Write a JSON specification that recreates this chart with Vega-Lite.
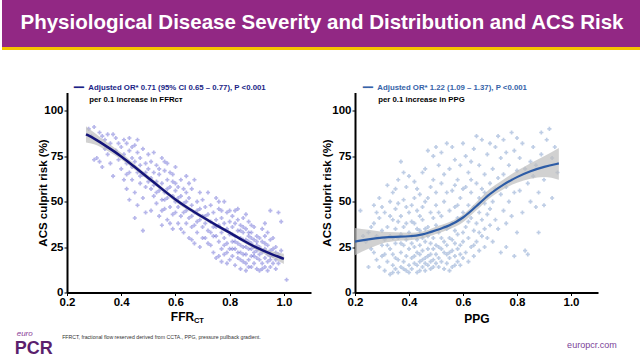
{
"$schema": "https://vega.github.io/schema/vega-lite/v6.json",
"padding": 0,
"background": "white",
"config": {
  "view": {"stroke": null},
  "font": "Liberation Sans",
  "axis": {"grid": false, "domainColor": "black", "domainWidth": 2, "tickColor": "black", "tickSize": 3, "tickWidth": 1,
    "labelFont": "Liberation Sans", "labelFontSize": 11.5, "labelFontWeight": "bold", "labelColor": "black", "labelPadding": 1,
    "titleFont": "Liberation Sans", "titleFontSize": 12, "titleFontWeight": "bold", "titleColor": "black"}
},
"datasets": {
  "ffr": [
    {"f":0.28,"r":90},{"f":0.30,"r":91},{"f":0.29,"r":86},{"f":0.32,"r":88},{"f":0.33,"r":86},{"f":0.31,"r":74},{"f":0.32,"r":72},{"f":0.30,"r":73},{"f":0.34,"r":84},{"f":0.35,"r":87},{"f":0.34,"r":79},{"f":0.33,"r":69},{"f":0.35,"r":76},{"f":0.36,"r":82},{"f":0.36,"r":71},{"f":0.37,"r":87},{"f":0.38,"r":85},{"f":0.37,"r":64},{"f":0.38,"r":78},{"f":0.39,"r":73},{"f":0.39,"r":82},
    {"f":0.40,"r":80},{"f":0.40,"r":68},{"f":0.41,"r":62},{"f":0.41,"r":84},{"f":0.41,"r":76},{"f":0.42,"r":71},{"f":0.42,"r":57},{"f":0.42,"r":82},{"f":0.43,"r":66},{"f":0.43,"r":78},{"f":0.43,"r":85},{"f":0.44,"r":74},{"f":0.44,"r":62},{"f":0.44,"r":69},{"f":0.45,"r":81},{"f":0.45,"r":55},{"f":0.45,"r":72},{"f":0.46,"r":66},{"f":0.46,"r":84},{"f":0.46,"r":48},{"f":0.47,"r":74},{"f":0.47,"r":60},{"f":0.47,"r":70},{"f":0.48,"r":79},{"f":0.48,"r":52},{"f":0.48,"r":65},{"f":0.49,"r":71},{"f":0.49,"r":58},{"f":0.49,"r":44},{"f":0.50,"r":68},{"f":0.50,"r":76},{"f":0.50,"r":61},{"f":0.45,"r":41},{"f":0.48,"r":34},{"f":0.43,"r":51},{"f":0.47,"r":64},{"f":0.46,"r":77},{"f":0.44,"r":80},{"f":0.42,"r":65},{"f":0.49,"r":66},
    {"f":0.51,"r":57},{"f":0.51,"r":72},{"f":0.51,"r":45},{"f":0.52,"r":66},{"f":0.52,"r":53},{"f":0.52,"r":77},{"f":0.53,"r":61},{"f":0.53,"r":49},{"f":0.53,"r":70},{"f":0.54,"r":56},{"f":0.54,"r":42},{"f":0.54,"r":65},{"f":0.55,"r":74},{"f":0.55,"r":51},{"f":0.55,"r":60},{"f":0.55,"r":37},{"f":0.56,"r":67},{"f":0.56,"r":46},{"f":0.56,"r":55},{"f":0.57,"r":62},{"f":0.57,"r":71},{"f":0.57,"r":40},{"f":0.57,"r":52},{"f":0.58,"r":58},{"f":0.58,"r":47},{"f":0.58,"r":66},{"f":0.59,"r":53},{"f":0.59,"r":43},{"f":0.59,"r":61},{"f":0.59,"r":35},{"f":0.60,"r":69},{"f":0.60,"r":50},{"f":0.60,"r":56},{"f":0.60,"r":44},{"f":0.52,"r":59},{"f":0.54,"r":68},{"f":0.56,"r":72},{"f":0.58,"r":38},{"f":0.53,"r":55},{"f":0.57,"r":57},{"f":0.51,"r":63},{"f":0.55,"r":45},{"f":0.59,"r":65},{"f":0.60,"r":60},{"f":0.56,"r":51},
    {"f":0.61,"r":47},{"f":0.61,"r":58},{"f":0.61,"r":38},{"f":0.62,"r":53},{"f":0.62,"r":62},{"f":0.62,"r":42},{"f":0.63,"r":49},{"f":0.63,"r":33},{"f":0.63,"r":57},{"f":0.64,"r":45},{"f":0.64,"r":64},{"f":0.64,"r":38},{"f":0.65,"r":52},{"f":0.65,"r":41},{"f":0.65,"r":30},{"f":0.66,"r":48},{"f":0.66,"r":57},{"f":0.66,"r":36},{"f":0.67,"r":44},{"f":0.67,"r":62},{"f":0.67,"r":27},{"f":0.68,"r":50},{"f":0.68,"r":39},{"f":0.68,"r":33},{"f":0.69,"r":46},{"f":0.69,"r":55},{"f":0.69,"r":25},{"f":0.70,"r":42},{"f":0.70,"r":36},{"f":0.70,"r":51},{"f":0.62,"r":35},{"f":0.64,"r":55},{"f":0.66,"r":42},{"f":0.68,"r":45},{"f":0.63,"r":44},{"f":0.65,"r":60},{"f":0.67,"r":37},{"f":0.69,"r":40},{"f":0.61,"r":52},{"f":0.66,"r":29},{"f":0.70,"r":30},{"f":0.64,"r":50},
    {"f":0.71,"r":47},{"f":0.71,"r":38},{"f":0.71,"r":30},{"f":0.72,"r":43},{"f":0.72,"r":55},{"f":0.72,"r":34},{"f":0.73,"r":39},{"f":0.73,"r":26},{"f":0.73,"r":48},{"f":0.74,"r":36},{"f":0.74,"r":44},{"f":0.74,"r":22},{"f":0.75,"r":52},{"f":0.75,"r":31},{"f":0.75,"r":40},{"f":0.75,"r":19},{"f":0.76,"r":37},{"f":0.76,"r":28},{"f":0.76,"r":46},{"f":0.77,"r":33},{"f":0.77,"r":41},{"f":0.77,"r":24},{"f":0.77,"r":17},{"f":0.78,"r":38},{"f":0.78,"r":30},{"f":0.78,"r":50},{"f":0.78,"r":21},{"f":0.79,"r":35},{"f":0.79,"r":27},{"f":0.79,"r":44},{"f":0.79,"r":16},{"f":0.80,"r":32},{"f":0.80,"r":39},{"f":0.80,"r":24},{"f":0.80,"r":18},{"f":0.72,"r":27},{"f":0.74,"r":31},{"f":0.76,"r":20},{"f":0.73,"r":33},{"f":0.75,"r":36},{"f":0.77,"r":45},{"f":0.79,"r":22},{"f":0.71,"r":42},{"f":0.76,"r":50},{"f":0.78,"r":26},{"f":0.80,"r":45},
    {"f":0.81,"r":36},{"f":0.81,"r":28},{"f":0.81,"r":20},{"f":0.81,"r":42},{"f":0.82,"r":31},{"f":0.82,"r":24},{"f":0.82,"r":15},{"f":0.82,"r":38},{"f":0.83,"r":34},{"f":0.83,"r":27},{"f":0.83,"r":19},{"f":0.83,"r":46},{"f":0.84,"r":30},{"f":0.84,"r":22},{"f":0.84,"r":13},{"f":0.84,"r":37},{"f":0.85,"r":33},{"f":0.85,"r":25},{"f":0.85,"r":17},{"f":0.85,"r":41},{"f":0.86,"r":29},{"f":0.86,"r":21},{"f":0.86,"r":35},{"f":0.86,"r":12},{"f":0.87,"r":31},{"f":0.87,"r":24},{"f":0.87,"r":18},{"f":0.87,"r":39},{"f":0.88,"r":27},{"f":0.88,"r":20},{"f":0.88,"r":33},{"f":0.88,"r":14},{"f":0.89,"r":29},{"f":0.89,"r":22},{"f":0.89,"r":36},{"f":0.89,"r":16},{"f":0.90,"r":26},{"f":0.90,"r":19},{"f":0.90,"r":31},{"f":0.90,"r":13},{"f":0.82,"r":28},{"f":0.84,"r":26},{"f":0.86,"r":25},{"f":0.88,"r":24},{"f":0.85,"r":29},{"f":0.87,"r":28},{"f":0.89,"r":25},{"f":0.83,"r":22},{"f":0.81,"r":32},{"f":0.84,"r":18},{"f":0.86,"r":16},{"f":0.88,"r":37},{"f":0.90,"r":23},{"f":0.87,"r":33},{"f":0.85,"r":21},{"f":0.83,"r":40},{"f":0.89,"r":20},{"f":0.82,"r":45},{"f":0.86,"r":43},{"f":0.88,"r":30},{"f":0.84,"r":34},{"f":0.90,"r":28},{"f":0.81,"r":24},{"f":0.87,"r":14},{"f":0.85,"r":36},
    {"f":0.91,"r":25},{"f":0.91,"r":18},{"f":0.91,"r":30},{"f":0.91,"r":12},{"f":0.92,"r":22},{"f":0.92,"r":16},{"f":0.92,"r":28},{"f":0.92,"r":13},{"f":0.93,"r":24},{"f":0.93,"r":19},{"f":0.93,"r":31},{"f":0.93,"r":14},{"f":0.94,"r":21},{"f":0.94,"r":17},{"f":0.94,"r":26},{"f":0.94,"r":12},{"f":0.95,"r":23},{"f":0.95,"r":18},{"f":0.95,"r":14},{"f":0.95,"r":29},{"f":0.96,"r":20},{"f":0.96,"r":24},{"f":0.96,"r":16},{"f":0.97,"r":22},{"f":0.97,"r":18},{"f":0.97,"r":25},{"f":0.98,"r":21},{"f":0.98,"r":44},{"f":0.99,"r":19},{"f":0.99,"r":23},{"f":0.98,"r":16},{"f":0.92,"r":35},{"f":0.94,"r":33},{"f":0.93,"r":38},{"f":0.96,"r":30},{"f":0.91,"r":21},{"f":0.93,"r":27},{"f":0.95,"r":20},{"f":0.97,"r":13},{"f":1.01,"r":7},{"f":0.95,"r":45},{"f":0.99,"r":39}
  ],
  "ppg": [
    {"p":0.22,"r":45},{"p":0.25,"r":14},{"p":0.24,"r":28},{"p":0.26,"r":36},{"p":0.27,"r":48},{"p":0.27,"r":22},{"p":0.28,"r":31},{"p":0.28,"r":18},{"p":0.29,"r":52},{"p":0.29,"r":41},{"p":0.30,"r":26},{"p":0.30,"r":34},{"p":0.26,"r":24},{"p":0.28,"r":44},{"p":0.29,"r":14},{"p":0.23,"r":31},{"p":0.30,"r":47},{"p":0.27,"r":38},{"p":0.25,"r":33},{"p":0.30,"r":20},
    {"p":0.31,"r":12},{"p":0.31,"r":29},{"p":0.31,"r":44},{"p":0.32,"r":59},{"p":0.32,"r":17},{"p":0.32,"r":36},{"p":0.33,"r":10},{"p":0.33,"r":24},{"p":0.33,"r":50},{"p":0.33,"r":31},{"p":0.34,"r":15},{"p":0.34,"r":40},{"p":0.34,"r":21},{"p":0.34,"r":55},{"p":0.35,"r":13},{"p":0.35,"r":27},{"p":0.35,"r":46},{"p":0.35,"r":35},{"p":0.36,"r":18},{"p":0.36,"r":62},{"p":0.36,"r":30},{"p":0.36,"r":11},{"p":0.37,"r":72},{"p":0.37,"r":22},{"p":0.37,"r":42},{"p":0.37,"r":14},{"p":0.38,"r":26},{"p":0.38,"r":51},{"p":0.38,"r":17},{"p":0.38,"r":36},{"p":0.39,"r":12},{"p":0.39,"r":29},{"p":0.39,"r":58},{"p":0.39,"r":20},{"p":0.40,"r":44},{"p":0.40,"r":15},{"p":0.40,"r":33},{"p":0.40,"r":64},{"p":0.32,"r":26},{"p":0.34,"r":30},{"p":0.36,"r":39},{"p":0.38,"r":13},{"p":0.35,"r":19},{"p":0.37,"r":32},{"p":0.39,"r":47},{"p":0.31,"r":21},{"p":0.33,"r":42},{"p":0.40,"r":24},{"p":0.36,"r":49},{"p":0.38,"r":66},{"p":0.34,"r":11},{"p":0.35,"r":57},{"p":0.39,"r":38},{"p":0.37,"r":27},{"p":0.40,"r":11},
    {"p":0.41,"r":19},{"p":0.41,"r":31},{"p":0.41,"r":48},{"p":0.41,"r":13},{"p":0.42,"r":25},{"p":0.42,"r":61},{"p":0.42,"r":16},{"p":0.42,"r":38},{"p":0.43,"r":11},{"p":0.43,"r":22},{"p":0.43,"r":45},{"p":0.43,"r":29},{"p":0.44,"r":17},{"p":0.44,"r":54},{"p":0.44,"r":34},{"p":0.44,"r":12},{"p":0.45,"r":23},{"p":0.45,"r":40},{"p":0.45,"r":14},{"p":0.45,"r":66},{"p":0.46,"r":19},{"p":0.46,"r":28},{"p":0.46,"r":50},{"p":0.46,"r":12},{"p":0.47,"r":78},{"p":0.47,"r":24},{"p":0.47,"r":36},{"p":0.47,"r":15},{"p":0.48,"r":21},{"p":0.48,"r":44},{"p":0.48,"r":13},{"p":0.48,"r":58},{"p":0.49,"r":18},{"p":0.49,"r":30},{"p":0.49,"r":75},{"p":0.49,"r":14},{"p":0.50,"r":26},{"p":0.50,"r":48},{"p":0.50,"r":16},{"p":0.50,"r":37},{"p":0.41,"r":27},{"p":0.43,"r":35},{"p":0.45,"r":30},{"p":0.47,"r":20},{"p":0.49,"r":24},{"p":0.42,"r":20},{"p":0.44,"r":26},{"p":0.46,"r":16},{"p":0.48,"r":27},{"p":0.50,"r":21},{"p":0.44,"r":42},{"p":0.46,"r":35},{"p":0.48,"r":33},{"p":0.42,"r":52},{"p":0.45,"r":18},{"p":0.47,"r":31},{"p":0.49,"r":62},{"p":0.43,"r":15},{"p":0.46,"r":68},{"p":0.50,"r":80},{"p":0.41,"r":39},{"p":0.44,"r":21},{"p":0.48,"r":17},{"p":0.50,"r":55},{"p":0.45,"r":47},{"p":0.49,"r":41},{"p":0.47,"r":52},{"p":0.43,"r":57},
    {"p":0.51,"r":19},{"p":0.51,"r":33},{"p":0.51,"r":70},{"p":0.51,"r":14},{"p":0.52,"r":24},{"p":0.52,"r":42},{"p":0.52,"r":17},{"p":0.52,"r":60},{"p":0.53,"r":28},{"p":0.53,"r":13},{"p":0.53,"r":50},{"p":0.53,"r":22},{"p":0.54,"r":35},{"p":0.54,"r":16},{"p":0.54,"r":82},{"p":0.54,"r":26},{"p":0.55,"r":19},{"p":0.55,"r":45},{"p":0.55,"r":30},{"p":0.55,"r":68},{"p":0.56,"r":23},{"p":0.56,"r":14},{"p":0.56,"r":38},{"p":0.56,"r":56},{"p":0.57,"r":20},{"p":0.57,"r":47},{"p":0.57,"r":27},{"p":0.57,"r":73},{"p":0.58,"r":17},{"p":0.58,"r":32},{"p":0.58,"r":62},{"p":0.58,"r":24},{"p":0.59,"r":21},{"p":0.59,"r":40},{"p":0.59,"r":15},{"p":0.59,"r":52},{"p":0.60,"r":28},{"p":0.60,"r":82},{"p":0.60,"r":19},{"p":0.60,"r":44},{"p":0.51,"r":25},{"p":0.53,"r":36},{"p":0.55,"r":22},{"p":0.57,"r":34},{"p":0.59,"r":26},{"p":0.52,"r":30},{"p":0.54,"r":21},{"p":0.56,"r":29},{"p":0.58,"r":41},{"p":0.60,"r":33},{"p":0.53,"r":65},{"p":0.55,"r":12},{"p":0.57,"r":15},{"p":0.59,"r":70},{"p":0.52,"r":77},{"p":0.56,"r":80},{"p":0.58,"r":48},{"p":0.54,"r":55},{"p":0.51,"r":44},{"p":0.60,"r":57},{"p":0.55,"r":36},{"p":0.57,"r":59},
    {"p":0.61,"r":36},{"p":0.61,"r":22},{"p":0.61,"r":58},{"p":0.61,"r":75},{"p":0.62,"r":30},{"p":0.62,"r":48},{"p":0.62,"r":17},{"p":0.62,"r":66},{"p":0.63,"r":41},{"p":0.63,"r":25},{"p":0.63,"r":55},{"p":0.63,"r":62},{"p":0.64,"r":34},{"p":0.64,"r":20},{"p":0.64,"r":47},{"p":0.64,"r":79},{"p":0.65,"r":38},{"p":0.65,"r":28},{"p":0.65,"r":60},{"p":0.65,"r":86},{"p":0.66,"r":44},{"p":0.66,"r":23},{"p":0.66,"r":52},{"p":0.66,"r":70},{"p":0.67,"r":31},{"p":0.67,"r":57},{"p":0.67,"r":84},{"p":0.67,"r":40},{"p":0.68,"r":49},{"p":0.68,"r":35},{"p":0.68,"r":65},{"p":0.68,"r":25},{"p":0.69,"r":53},{"p":0.69,"r":76},{"p":0.69,"r":43},{"p":0.69,"r":30},{"p":0.70,"r":60},{"p":0.70,"r":37},{"p":0.70,"r":82},{"p":0.70,"r":46},{"p":0.62,"r":39},{"p":0.64,"r":26},{"p":0.66,"r":33},{"p":0.68,"r":55},{"p":0.63,"r":72},
    {"p":0.71,"r":50},{"p":0.71,"r":68},{"p":0.71,"r":28},{"p":0.72,"r":57},{"p":0.72,"r":80},{"p":0.72,"r":40},{"p":0.73,"r":63},{"p":0.73,"r":35},{"p":0.73,"r":86},{"p":0.74,"r":54},{"p":0.74,"r":74},{"p":0.74,"r":22},{"p":0.75,"r":45},{"p":0.75,"r":65},{"p":0.75,"r":84},{"p":0.76,"r":58},{"p":0.76,"r":38},{"p":0.76,"r":77},{"p":0.77,"r":50},{"p":0.77,"r":70},{"p":0.78,"r":62},{"p":0.78,"r":88},{"p":0.78,"r":42},{"p":0.79,"r":55},{"p":0.79,"r":78},{"p":0.80,"r":67},{"p":0.80,"r":33},{"p":0.80,"r":85},{"p":0.76,"r":25},{"p":0.79,"r":20},
    {"p":0.81,"r":74},{"p":0.81,"r":56},{"p":0.82,"r":82},{"p":0.82,"r":44},{"p":0.83,"r":68},{"p":0.83,"r":23},{"p":0.84,"r":60},{"p":0.84,"r":21},{"p":0.85,"r":72},{"p":0.85,"r":50},{"p":0.86,"r":64},{"p":0.86,"r":80},{"p":0.87,"r":47},{"p":0.87,"r":70},{"p":0.88,"r":55},{"p":0.88,"r":33},{"p":0.89,"r":76},{"p":0.89,"r":88},{"p":0.90,"r":62},{"p":0.90,"r":48},{"p":0.91,"r":84},{"p":0.92,"r":90},{"p":0.93,"r":74},{"p":0.94,"r":80},{"p":0.95,"r":66},{"p":0.93,"r":52}
  ],
  "ffrfit": [
    {"x":0.27,"fit":87,"lo":82.5,"hi":91.5},{"x":0.30,"fit":84.8,"lo":81.6,"hi":88},{"x":0.35,"fit":80,"lo":77.8,"hi":82.3},{"x":0.40,"fit":75,"lo":73.2,"hi":76.8},{"x":0.45,"fit":69,"lo":67.5,"hi":70.5},{"x":0.50,"fit":63,"lo":61.7,"hi":64.3},{"x":0.55,"fit":57,"lo":55.8,"hi":58.2},{"x":0.60,"fit":51,"lo":49.8,"hi":52.2},{"x":0.65,"fit":46,"lo":44.9,"hi":47.1},{"x":0.70,"fit":41.5,"lo":40.4,"hi":42.6},{"x":0.75,"fit":37,"lo":36,"hi":38},{"x":0.80,"fit":33,"lo":32,"hi":34},{"x":0.85,"fit":28.5,"lo":27.5,"hi":29.5},{"x":0.90,"fit":24.5,"lo":23.3,"hi":25.7},{"x":0.95,"fit":21.3,"lo":19.6,"hi":23},{"x":1.0,"fit":18.5,"lo":15.7,"hi":21.3}
  ],
  "ppgfit": [
    {"x":0.20,"fit":28,"lo":20.5,"hi":35.5},{"x":0.25,"fit":29.3,"lo":24,"hi":34.5},{"x":0.30,"fit":30.2,"lo":27,"hi":33.4},{"x":0.35,"fit":30.7,"lo":28.3,"hi":33.1},{"x":0.40,"fit":30.8,"lo":28.7,"hi":32.9},{"x":0.45,"fit":31.7,"lo":29.8,"hi":33.6},{"x":0.50,"fit":34.2,"lo":32.2,"hi":36.2},{"x":0.55,"fit":36.8,"lo":34.8,"hi":38.8},{"x":0.60,"fit":40.8,"lo":38.7,"hi":42.9},{"x":0.65,"fit":47.5,"lo":45.2,"hi":49.8},{"x":0.70,"fit":54.5,"lo":52,"hi":57},{"x":0.75,"fit":59.5,"lo":56.8,"hi":62.2},{"x":0.80,"fit":63.6,"lo":60.3,"hi":66.9},{"x":0.85,"fit":66.8,"lo":62.5,"hi":71.1},{"x":0.90,"fit":69.2,"lo":63.5,"hi":74.9},{"x":0.955,"fit":71,"lo":62,"hi":79.5}
  ]
},
"spacing": 33.5,
"vconcat": [
  {
    "width": 640, "height": 50,
    "view": {"fill": "#922884", "stroke": null},
    "layer": [
      {"data": {"values": [{"t": "Physiological Disease Severity and Distribution and ACS Risk"}]},
       "mark": {"type": "text", "color": "white", "fontSize": 20.5, "fontWeight": "bold", "font": "Liberation Sans", "dy": -2},
       "encoding": {"text": {"field": "t"}}},
      {"data": {"values": [{"k": 1}]},
       "mark": {"type": "rule", "color": "#F5C400", "strokeWidth": 3},
       "encoding": {"y": {"datum": 0.03, "type": "quantitative", "scale": {"domain": [0, 1]}, "axis": null}}}
    ]
  },
  {
    "spacing": 0,
    "vconcat": [
      {
        "hconcat": [
          {"width": 21, "height": 200, "data": {"values": [{"k": 1}]}, "mark": {"type": "text", "text": ""}, "encoding": {}},
          {
            "width": 244, "height": 200,
            "title": {"text": "━━\u00a0\u00a0Adjusted OR* 0.71 (95% CI 0.65 – 0.77), P <0.001", "subtitle": "\u200b\u00a0\u00a0\u00a0\u00a0\u00a0\u00a0\u00a0per 0.1 increase in FFRᴄᴛ",
              "anchor": "start", "frame": "group", "dx": 7, "offset": -11,
              "font": "Liberation Sans", "fontSize": 7.8, "fontWeight": "bold", "color": "#1B1F86",
              "subtitleFont": "Liberation Sans", "subtitleFontSize": 7.8, "subtitleFontWeight": "bold", "subtitleColor": "black", "subtitlePadding": 3.5},
            "layer": [
              {"data": {"name": "ffr"},
               "mark": {"type": "point", "shape": "cross", "filled": true, "size": 17, "color": "#5050CC", "opacity": 0.42},
               "encoding": {
                 "x": {"field": "f", "type": "quantitative", "scale": {"domain": [0.2, 1.1], "nice": false, "zero": false},
                   "axis": {"values": [0.2, 0.4, 0.6, 0.8, 1.0], "format": ".1f", "labelFlush": false, "title": "FFR", "titleX": 115, "titlePadding": 3}},
                 "y": {"field": "r", "type": "quantitative", "scale": {"domain": [0, 110], "nice": false},
                   "axis": {"values": [0, 25, 50, 75, 100], "title": "ACS culprit risk (%)", "titleFontSize": 11.5, "titleX": -19}}
               }},
              {"data": {"name": "ffrfit"},
               "mark": {"type": "area", "color": "#BDBDBD", "opacity": 0.7, "interpolate": "monotone"},
               "encoding": {"x": {"field": "x", "type": "quantitative"}, "y": {"field": "lo", "type": "quantitative"}, "y2": {"field": "hi"}}},
              {"data": {"name": "ffrfit"},
               "mark": {"type": "line", "color": "#14147A", "strokeWidth": 2.5, "interpolate": "basis"},
               "encoding": {"x": {"field": "x", "type": "quantitative"}, "y": {"field": "fit", "type": "quantitative"}}},
              {"data": {"values": [{"s": "CT"}]},
               "mark": {"type": "text", "fontSize": 7.5, "fontWeight": "bold", "color": "black", "align": "left", "baseline": "middle"},
               "encoding": {"text": {"field": "s"}, "x": {"datum": 0.668, "type": "quantitative"}, "y": {"datum": -15.7, "type": "quantitative"}}}
            ]
          },
          {
            "width": 243, "height": 200,
            "title": {"text": "━━\u00a0\u00a0Adjusted OR* 1.22 (1.09 – 1.37), P <0.001", "subtitle": "\u200b\u00a0\u00a0\u00a0\u00a0\u00a0\u00a0\u00a0per 0.1 increase in PPG",
              "anchor": "start", "frame": "group", "dx": 8, "offset": -11,
              "font": "Liberation Sans", "fontSize": 7.8, "fontWeight": "bold", "color": "#3563A8",
              "subtitleFont": "Liberation Sans", "subtitleFontSize": 7.8, "subtitleFontWeight": "bold", "subtitleColor": "black", "subtitlePadding": 3.5},
            "layer": [
              {"data": {"name": "ppg"},
               "mark": {"type": "point", "shape": "cross", "filled": true, "size": 17, "color": "#4A74B8", "opacity": 0.36},
               "encoding": {
                 "x": {"field": "p", "type": "quantitative", "scale": {"domain": [0.2, 1.1], "nice": false, "zero": false},
                   "axis": {"values": [0.2, 0.4, 0.6, 0.8, 1.0], "format": ".1f", "labelFlush": false, "title": "PPG", "titlePadding": 5}},
                 "y": {"field": "r", "type": "quantitative", "scale": {"domain": [0, 110], "nice": false},
                   "axis": {"values": [0, 25, 50, 75, 100], "title": "ACS culprit risk (%)", "titleFontSize": 11.5, "titleX": -23}}
               }},
              {"data": {"name": "ppgfit"},
               "mark": {"type": "area", "color": "#BDBDBD", "opacity": 0.7, "interpolate": "monotone"},
               "encoding": {"x": {"field": "x", "type": "quantitative"}, "y": {"field": "lo", "type": "quantitative"}, "y2": {"field": "hi"}}},
              {"data": {"name": "ppgfit"},
               "mark": {"type": "line", "color": "#2D5CA6", "strokeWidth": 2.2, "interpolate": "basis"},
               "encoding": {"x": {"field": "x", "type": "quantitative"}, "y": {"field": "fit", "type": "quantitative"}}}
            ]
          }
        ],
        "spacing": 44,
        "bounds": "flush"
      },
      {
        "width": 640, "height": 33,
        "layer": [
          {"data": {"values": [{"t": "euro"}]},
           "mark": {"type": "text", "font": "Liberation Sans", "fontStyle": "italic", "fontSize": 8, "color": "#8A3D97", "align": "left", "baseline": "middle"},
           "encoding": {"text": {"field": "t"},
             "x": {"datum": 2.3, "type": "quantitative", "scale": {"domain": [0, 100]}, "axis": null},
             "y": {"datum": 74, "type": "quantitative", "scale": {"domain": [0, 100]}, "axis": null}}},
          {"data": {"values": [{"t": "PCR"}]},
           "mark": {"type": "text", "font": "Liberation Sans", "fontWeight": "bold", "fontSize": 18, "color": "#5B1F6E", "align": "left", "baseline": "middle"},
           "encoding": {"text": {"field": "t"}, "x": {"datum": 2.0, "type": "quantitative"}, "y": {"datum": 30, "type": "quantitative"}}},
          {"data": {"values": [{"t": "FFRCT, fractional flow reserved derived from CCTA., PPG, pressure pullback gradient."}]},
           "mark": {"type": "text", "font": "Liberation Sans", "fontSize": 5.2, "color": "#333333", "align": "left", "baseline": "middle"},
           "encoding": {"text": {"field": "t"}, "x": {"datum": 9.4, "type": "quantitative"}, "y": {"datum": 66, "type": "quantitative"}}},
          {"data": {"values": [{"t": "europcr.com"}]},
           "mark": {"type": "text", "font": "Liberation Sans", "fontSize": 9, "color": "#7B3F98", "align": "left", "baseline": "middle"},
           "encoding": {"text": {"field": "t"}, "x": {"datum": 88.3, "type": "quantitative"}, "y": {"datum": 42, "type": "quantitative"}}}
        ]
      }
    ]
  }
]
}
